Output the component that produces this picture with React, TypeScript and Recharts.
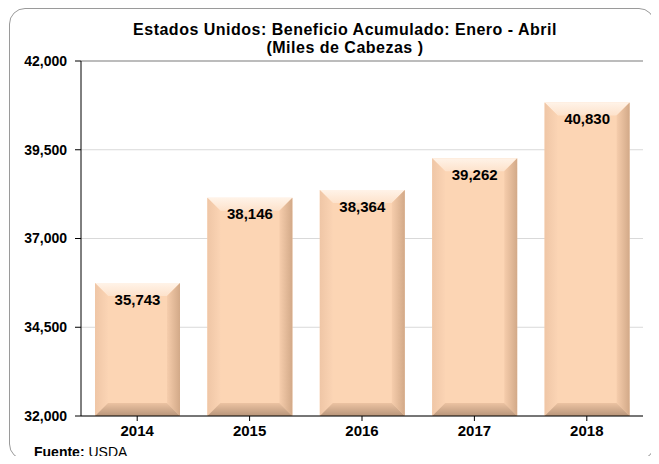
import { BarChart, Bar, XAxis, YAxis, CartesianGrid, LabelList, ReferenceLine } from 'recharts';

const years = ['2014', '2015', '2016', '2017', '2018'];
const beneficio = [35743, 38146, 38364, 39262, 40830];
const yTicks = [32000, 34500, 37000, 39500, 42000];

const data = years.map((y, i) => ({ year: y, value: beneficio[i] }));

const fmt = (v: number) => v.toLocaleString('en-US');

const BevelBar = (props: any) => {
  const { x, y, width: w, height: h } = props;
  if (!w || !h) return null;
  const b = 13;
  return (
    <g>
      <rect x={x} y={y} width={w} height={h} fill="#fcd5b4" />
      <polygon points={`${x},${y} ${x + w},${y} ${x + w - b},${y + b} ${x + b},${y + b}`} fill="url(#bevTop)" />
      <polygon points={`${x},${y} ${x + b},${y + b} ${x + b},${y + h - b} ${x},${y + h}`} fill="url(#bevLeft)" />
      <polygon points={`${x + w},${y} ${x + w},${y + h} ${x + w - b},${y + h - b} ${x + w - b},${y + b}`} fill="url(#bevRight)" />
      <polygon points={`${x},${y + h} ${x + b},${y + h - b} ${x + w - b},${y + h - b} ${x + w},${y + h}`} fill="url(#bevBottom)" />
    </g>
  );
};

const App = () => {
  return (
    <div style={{ position: 'relative', width: 659, height: 464, margin: -8, fontFamily: '"Liberation Sans", Arial, sans-serif' }}>
      <div style={{ position: 'absolute', left: 9, top: 8, width: 646, height: 452, border: '1px solid #9a9a9a', borderRadius: 16, boxSizing: 'border-box' }} />
      <div style={{ position: 'absolute', left: 0, width: 690, top: 21, textAlign: 'center', fontWeight: 'bold', fontSize: 16, letterSpacing: 0.5, lineHeight: '18px', color: '#000' }}>
        Estados Unidos: Beneficio Acumulado: Enero - Abril
        <br />
        (Miles de Cabezas )
      </div>
      <BarChart width={659} height={464} data={data} margin={{ top: 61, right: 16, left: 0, bottom: 18 }} barSize={85} style={{ position: 'absolute', left: 0, top: 0 }}>
        <defs>
          <linearGradient id="bevTop" x1="0" y1="0" x2="0" y2="1">
            <stop offset="0%" stopColor="#fff3e8" />
            <stop offset="100%" stopColor="#fde2cb" />
          </linearGradient>
          <linearGradient id="bevLeft" x1="0" y1="0" x2="1" y2="0">
            <stop offset="0%" stopColor="#efc6a6" />
            <stop offset="100%" stopColor="#fbd4b4" />
          </linearGradient>
          <linearGradient id="bevRight" x1="0" y1="0" x2="1" y2="0">
            <stop offset="0%" stopColor="#f6cdac" />
            <stop offset="100%" stopColor="#d2a988" />
          </linearGradient>
          <linearGradient id="bevBottom" x1="0" y1="0" x2="0" y2="1">
            <stop offset="0%" stopColor="#ecc3a2" />
            <stop offset="100%" stopColor="#b8957a" />
          </linearGradient>
        </defs>
        <CartesianGrid vertical={false} stroke="#d9d9d9" />
        <XAxis
          dataKey="year"
          height={30}
          stroke="#000"
          tickSize={5}
          tick={{ fill: '#000', fontWeight: 'bold', fontSize: 15 }}
          tickMargin={4}
        />
        <YAxis
          yAxisId={0}
          domain={[32000, 42000]}
          ticks={yTicks}
          width={81}
          stroke="#000"
          tickSize={6}
          tickMargin={8}
          tickFormatter={fmt}
          tick={{ fill: '#000', fontWeight: 'bold', fontSize: 14 }}
          interval={0}
          allowDataOverflow
        />
        <YAxis yAxisId="r" orientation="right" width={0} tick={false} stroke="#8c8c8c" domain={[32000, 42000]} />
        <ReferenceLine y={42000} stroke="#8c8c8c" />
        <Bar dataKey="value" isAnimationActive={false} shape={BevelBar}>
          <LabelList dataKey="value" position="insideTop" offset={11} formatter={(v: any) => fmt(Number(v))} style={{ fill: '#000', fontWeight: 'bold', fontSize: 15 }} />
        </Bar>
      </BarChart>
      <div style={{ position: 'absolute', left: 34, top: 444, fontSize: 14, lineHeight: '16px', color: '#000' }}>
        <b>Fuente:</b> USDA
      </div>
    </div>
  );
};

export default App;
